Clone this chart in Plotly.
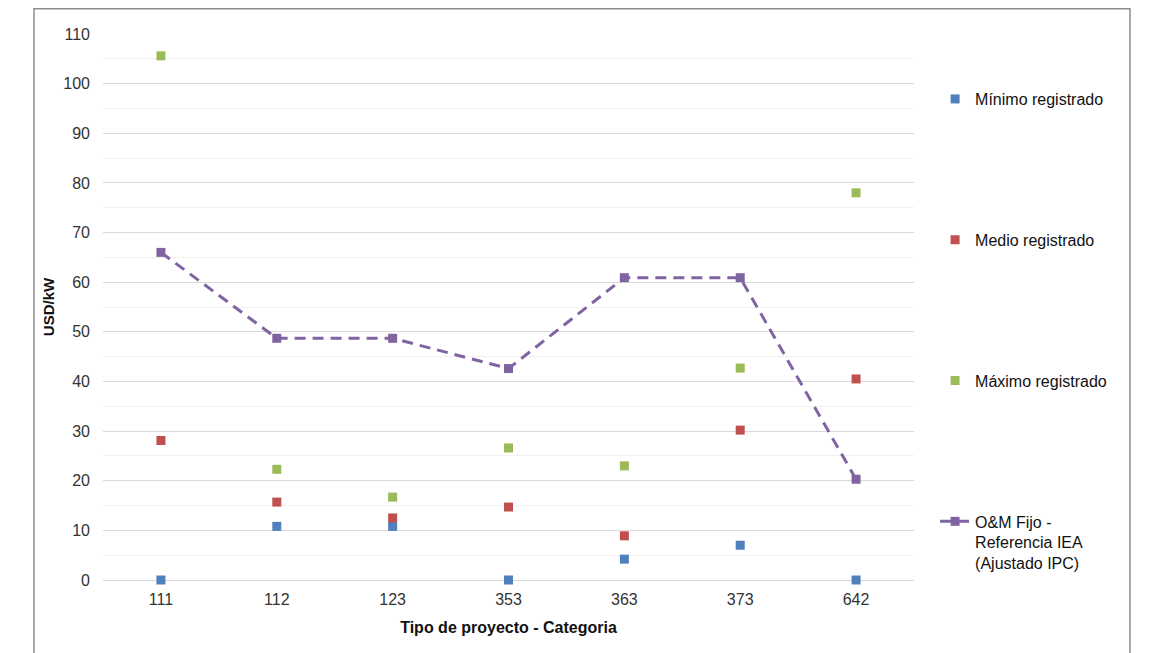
import plotly.graph_objects as go

categories = ["111", "112", "123", "353", "363", "373", "642"]
minimo = [0, 10.8, 10.8, 0, 4.2, 7.0, 0]
medio = [28.1, 15.7, 12.5, 14.7, 8.9, 30.2, 40.5]
maximo = [105.6, 22.3, 16.7, 26.6, 23.0, 42.7, 78.0]
iea = [66.0, 48.7, 48.7, 42.6, 60.9, 60.9, 20.3]

names = ["Mínimo registrado", "Medio registrado", "Máximo registrado",
         "O&M Fijo -<br>Referencia IEA<br>(Ajustado IPC)"]
colors = ["#4F81BD", "#C0504D", "#9BBB59", "#8064A2"]

fig = go.Figure()
for i, (vals, nm, col) in enumerate(zip([minimo, medio, maximo], names[:3], colors[:3])):
    fig.add_trace(go.Scatter(x=categories, y=vals, mode="markers", name=nm,
                             legendgroup=f"g{i}",
                             marker=dict(symbol="square", size=9, color=col),
                             cliponaxis=False))
fig.add_trace(go.Scatter(x=categories, y=iea, mode="lines+markers", name=names[3],
                         legendgroup="g3",
                         line=dict(color=colors[3], width=3, dash="11px,7px"),
                         marker=dict(symbol="square", size=9, color=colors[3]),
                         cliponaxis=False))

fig.update_layout(
    width=1149, height=653,
    margin=dict(l=95, r=243, t=26, b=81),
    paper_bgcolor="white", plot_bgcolor="white",
    font=dict(family="Liberation Sans, Arial, sans-serif", size=16, color="#333333"),
    showlegend=True,
    legend=dict(x=1.026, y=0.912, xanchor="left", yanchor="top",
                font=dict(size=16, color="#111111"), tracegroupgap=117,
                itemwidth=30, bgcolor="rgba(0,0,0,0)", valign="top"),
    xaxis=dict(type="category", range=[-0.5, 6.5], showgrid=False,
               showline=False, ticks="", ticklabelstandoff=8,
               tickfont=dict(size=16, color="#333333"),
               title=dict(text="<b>Tipo de proyecto - Categoria</b>",
                          font=dict(size=16, color="#111111"), standoff=14)),
    yaxis=dict(range=[0, 110], dtick=10, tick0=0, showgrid=True,
               gridcolor="#D9D9D9", gridwidth=1, zeroline=True,
               zerolinecolor="#D9D9D9", zerolinewidth=1, showline=False,
               ticks="", ticklabelstandoff=12,
               tickfont=dict(size=16, color="#333333"),
               minor=dict(dtick=5, tick0=0, showgrid=True, gridcolor="#F0F0F0", gridwidth=1),
               title=dict(text="<b>USD/kW</b>", font=dict(size=15, color="#111111"),
                          standoff=5)),
)

# outer frame (chart border, cut at the bottom)
fig.add_shape(type="path", xref="paper", yref="paper",
              path="M -0.0851,-0.2 L -0.0851,1.0462 L 1.2663,1.0462 L 1.2663,-0.2",
              line=dict(color="#8C8C8C", width=1.5), layer="above")

fig.write_html("out.html")
